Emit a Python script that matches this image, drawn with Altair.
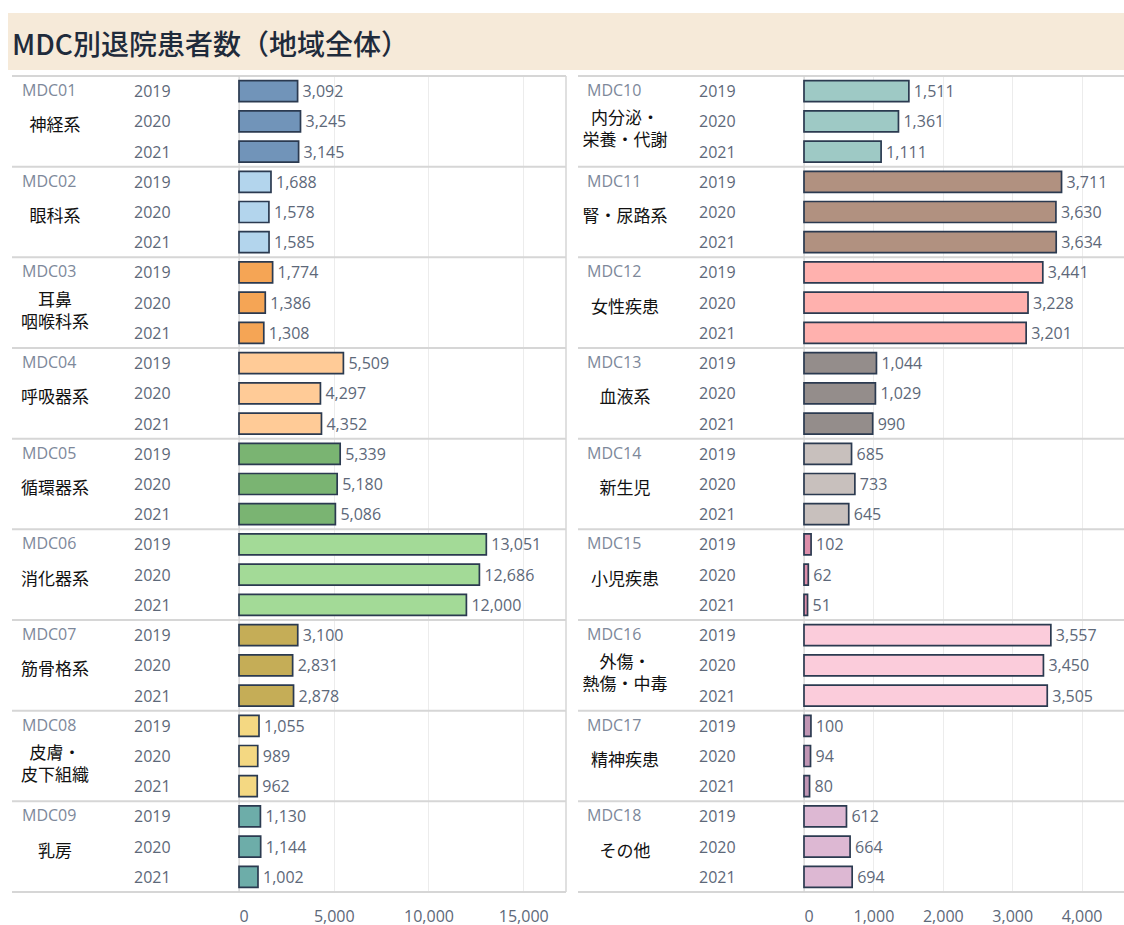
import altair as alt
import pandas as pd

TITLE = "MDC別退院患者数（地域全体）"

mdc_codes = ["MDC01", "MDC02", "MDC03", "MDC04", "MDC05", "MDC06", "MDC07", "MDC08", "MDC09",
             "MDC10", "MDC11", "MDC12", "MDC13", "MDC14", "MDC15", "MDC16", "MDC17", "MDC18"]
mdc_names = ["神経系", "眼科系", "耳鼻\n咽喉科系", "呼吸器系", "循環器系", "消化器系", "筋骨格系",
             "皮膚・\n皮下組織", "乳房",
             "内分泌・\n栄養・代謝", "腎・尿路系", "女性疾患", "血液系", "新生児", "小児疾患",
             "外傷・\n熱傷・中毒", "精神疾患", "その他"]
years = ["2019", "2020", "2021"]
v2019 = [3092, 1688, 1774, 5509, 5339, 13051, 3100, 1055, 1130,
         1511, 3711, 3441, 1044, 685, 102, 3557, 100, 612]
v2020 = [3245, 1578, 1386, 4297, 5180, 12686, 2831, 989, 1144,
         1361, 3630, 3228, 1029, 733, 62, 3450, 94, 664]
v2021 = [3145, 1585, 1308, 4352, 5086, 12000, 2878, 962, 1002,
         1111, 3634, 3201, 990, 645, 51, 3505, 80, 694]
colors = ["#7194B9", "#B3D5ED", "#F5A555", "#FFCB97", "#7AB472", "#A3DA97", "#C5AD57", "#F4D882", "#6DADA9",
          "#9EC9C5", "#B19180", "#FFB1AE", "#948D8B", "#C8C0BD", "#DC8EAA", "#FBCCDB", "#C095B4", "#DDB8D3"]
left_ticks = [0, 5000, 10000, 15000]
right_ticks = [0, 1000, 2000, 3000, 4000]

rows = []
for i, code in enumerate(mdc_codes):
    for yr, vals in zip(years, [v2019, v2020, v2021]):
        rows.append(dict(side="L" if i < 9 else "R", group=i % 9, slot=f"{i % 9}-{yr}",
                         mdc=code, name=mdc_names[i], lines=mdc_names[i].count("\n") + 1,
                         year=yr, value=vals[i]))
df = pd.DataFrame(rows)
slots = [f"{g}-{yr}" for g in range(9) for yr in years]

W, H, TOP, BOTTOM = 1124, 816, 76, 33
NUM_FONT = "Open Sans"
JP_FONT = "Noto Sans CJK JP"
TXT = "#5d6879"
CODE = "#7d889a"
SEP = "#d6d6d6"

yscale = alt.Scale(type="band", domain=slots, paddingInner=0, paddingOuter=0)


def Y(**kw):
    return alt.Y("slot:N", scale=yscale, axis=None, **kw)


def panel(side, x0, x1, dmax, ticks, code_x, year_x, name_x, line_x0, line_x1):
    d = df[df.side == side]
    base = alt.Chart(d)
    xs = alt.Scale(domain=[0, dmax], range=[x0, x1], nice=False, zero=True)
    layers = []
    layers.append(
        base.transform_filter("datum.year == '2019'").mark_rule(color=SEP, strokeWidth=2).encode(
            x=alt.value(line_x0), x2=alt.value(line_x1), y=Y(bandPosition=0)))
    layers.append(
        base.transform_filter("datum.group == 8 && datum.year == '2021'").mark_rule(color=SEP, strokeWidth=2).encode(
            x=alt.value(line_x0), x2=alt.value(line_x1), y=Y(bandPosition=1)))
    layers.append(
        alt.Chart(pd.DataFrame({"z": [0]})).mark_rule(color="#d0d0d0", strokeWidth=1).encode(
            x=alt.X("z:Q", scale=xs, axis=None)))
    layers.append(
        base.mark_bar(size=21, stroke="#2b3a50", strokeWidth=1.7).encode(
            x=alt.X("value:Q", scale=xs,
                    axis=alt.Axis(values=ticks, format=",.0f", orient="bottom", domain=False, ticks=False,
                                  grid=True, gridColor="#ececec", gridWidth=1, labelFont=NUM_FONT,
                                  labelFontSize=16, labelColor=TXT, labelPadding=16, title=None)),
            y=Y(),
            color=alt.Color("mdc:N", scale=alt.Scale(domain=mdc_codes, range=colors), legend=None)))
    layers.append(
        base.mark_text(align="left", baseline="middle", dx=5, dy=1, font=NUM_FONT, fontSize=16, color=TXT).encode(
            x=alt.X("value:Q", scale=xs, axis=None), y=Y(), text=alt.Text("value:Q", format=",.0f")))
    layers.append(
        base.mark_text(align="left", baseline="middle", dy=1, font=NUM_FONT, fontSize=16, color=TXT).encode(
            x=alt.value(year_x), y=Y(), text="year:N"))
    layers.append(
        base.transform_filter("datum.year == '2019'").mark_text(
            align="left", baseline="middle", font=NUM_FONT, fontSize=16, color=CODE).encode(
            x=alt.value(code_x), y=Y(), text="mdc:N"))
    layers.append(
        base.transform_filter("datum.year == '2020' && datum.lines == 1").mark_text(
            align="center", baseline="middle", dy=5, font=JP_FONT, fontSize=17, color="#111111").encode(
            x=alt.value(name_x), y=Y(), text="name:N"))
    layers.append(
        base.transform_filter("datum.year == '2020' && datum.lines == 2").mark_text(
            align="center", baseline="middle", dy=-2, lineBreak="\n", lineHeight=22,
            font=JP_FONT, fontSize=17, color="#111111").encode(
            x=alt.value(name_x), y=Y(), text="name:N"))
    return layers


left = panel("L", 239, 566, 17256, left_ticks, 22, 134, 55, 12, 566)
right = panel("R", 804, 1124, 4611, right_ticks, 587, 699, 625, 578, 1124)

one = pd.DataFrame({"t": [TITLE]})
title_rect = alt.Chart(one).mark_rect(color="#F6EAD9").encode(
    x=alt.value(8), x2=alt.value(1124), y=alt.value(-63), y2=alt.value(-6))
title_text = alt.Chart(one).mark_text(
    align="left", baseline="middle", font=JP_FONT, fontSize=28, fontWeight=500, color="#1f2b3b").encode(
    x=alt.value(12), y=alt.value(-29), text="t:N")
border = alt.Chart(one).mark_rule(color=SEP, strokeWidth=1.5).encode(
    x=alt.value(566), y=alt.value(0), y2=alt.value(H))

chart = alt.layer(title_rect, title_text, border, *left, *right).resolve_scale(
    x="independent"
).properties(
    width=W, height=H,
    padding={"left": 0, "top": TOP, "right": 0, "bottom": BOTTOM},
    autosize=alt.AutoSizeParams(type="none"),
).configure_view(stroke=None)

chart.save("out.html", embed_options={"renderer": "svg", "actions": False})
